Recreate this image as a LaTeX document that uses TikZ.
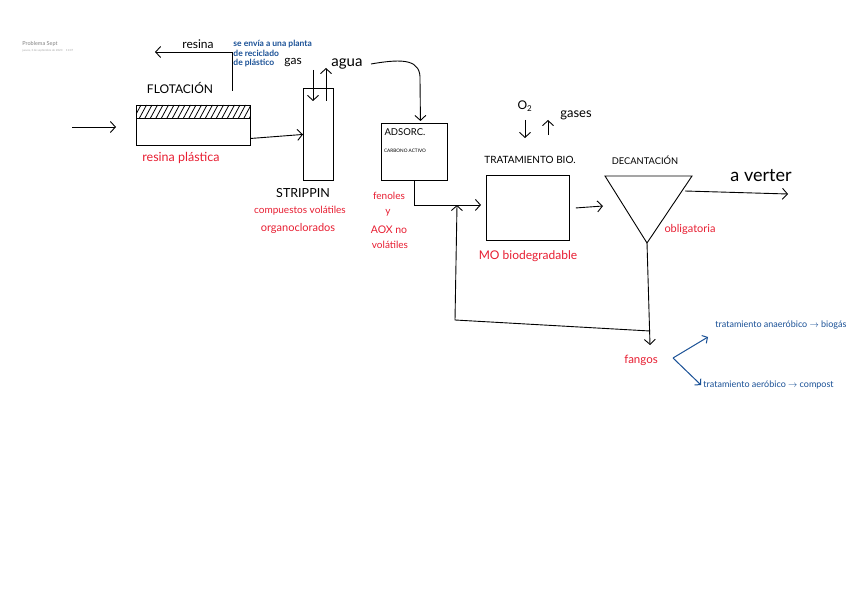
\documentclass[tikz,border=0pt]{standalone}
\usepackage{fontspec}
\setmainfont{Lato}
\usetikzlibrary{arrows.meta}
\definecolor{redh}{RGB}{232,30,50}
\definecolor{blueh}{RGB}{25,80,150}
\begin{document}
\begin{tikzpicture}[x=1pt,y=-1pt, line width=0.9pt,
  box/.style={draw, inner sep=0pt, anchor=north west},
  lbl/.style={inner sep=0pt, font=\fontsize{10}{12}\selectfont},
  rlbl/.style={inner sep=0pt, text=redh, font=\fontsize{10}{12}\selectfont},
  blbl/.style={inner sep=0pt, text=blueh, font=\fontsize{8}{9}\selectfont},
  arr/.style={-{Straight Barb[length=5pt,width=11pt]}},
  barr/.style={-{Straight Barb[length=4pt,width=9pt]}, draw=blueh, line width=1pt},
]
\useasboundingbox (0,0) rectangle (848,599);
\fill[white] (0,0) rectangle (848,599);

% header
\node[anchor=west, inner sep=0pt, text=gray, font=\fontsize{5.5}{6}\selectfont] (title) at (22,44) {Problema Sept};
\node[anchor=west, inner sep=0pt, text=gray!70, font=\fontsize{2.8}{3}\selectfont] (date) at (22,51) {jueves, 3 de septiembre de 2020 \quad 11:07};

% flotacion
\node[box, minimum width=114pt, minimum height=40pt] (flot) at (136,105) {};
\begin{scope}
  \clip (136,105) rectangle (250,118);
  \foreach \i in {0,...,22} \draw[line width=0.8pt] (134+5.5*\i,118) -- (141+5.5*\i,105);
\end{scope}
\draw (136,118) -- (250,118);
\node[lbl, font=\fontsize{12}{12}\selectfont] (flotlbl) at (180,88) {FLOTACIÓN};
\node[rlbl, font=\fontsize{12.5}{13}\selectfont] (resplas) at (181,158) {resina plástica};
\coordinate (in0) at (72,127);
\coordinate (in1) at (116,127);
\draw[arr] (in0) -- (in1);

% resina out
\coordinate (r1) at (232,91);
\coordinate (r2) at (155,52);
\draw[arr] (r1) |- (r2);
\node[lbl, font=\fontsize{12}{12}\selectfont] (resina) at (198,44) {resina};
\node[blbl, anchor=north west, align=left, font=\fontsize{8.5}{9.5}\selectfont\bfseries] (envia) at (233,40) {se envía a una planta\\de reciclado\\de plástico};

% stripping
\node[box, minimum width=30pt, minimum height=92pt] (strip) at (303,88) {};
\draw[arr] ([yshift=-13pt]flot.east) -- (strip.west);
\node[lbl, font=\fontsize{12}{12}\selectfont] (gas) at (293,63) {gas};
\coordinate (g0) at (313,70);
\coordinate (g1) at (313,101);
\draw[arr] (g0) -- (g1);
\coordinate (w0) at (326,101);
\coordinate (w1) at (326,68);
\draw[arr] (w0) -- (w1);
\node[lbl, font=\fontsize{15}{15}\selectfont] (agua) at (347,64) {agua};
\node[lbl, font=\fontsize{12.5}{13}\selectfont] (striplbl) at (303,193) {STRIPPIN};
\node[rlbl, font=\fontsize{10}{12}\selectfont] (comp) at (300,211) {compuestos volátiles};
\node[rlbl, font=\fontsize{11}{12}\selectfont] (org) at (298,228) {organoclorados};

% adsorcion
\node[box, minimum width=66pt, minimum height=57pt] (ads) at (381,123) {};
\node[lbl, font=\fontsize{9.5}{10}\selectfont] (adslbl) at (405,132) {ADSORC.};
\node[inner sep=0pt, font=\fontsize{4.7}{5}\selectfont] (carb) at (405,151) {CARBONO ACTIVO};
\coordinate (a0) at (371,64);
\draw[arr] (a0) .. controls (405,58) and (421,60) .. (420,80) -- ([xshift=6pt,yshift=2pt]ads.north);
\node[rlbl, font=\fontsize{10}{11}\selectfont] (fen1) at (389,196) {fenoles};
\node[rlbl, font=\fontsize{10}{11}\selectfont] (fen2) at (388,213) {y};
\node[rlbl, font=\fontsize{10.5}{11}\selectfont] (fen3) at (389,230) {AOX no};
\node[rlbl, font=\fontsize{10}{11}\selectfont] (fen4) at (390,245) {volátiles};

% tratamiento bio
\node[box, minimum width=83pt, minimum height=65pt] (bio) at (486,175) {};
\node[lbl, font=\fontsize{10}{10}\selectfont] (biolbl) at (530,160) {TRATAMIENTO BIO.};
\node[rlbl, font=\fontsize{12}{12}\selectfont] (mo) at (528,256) {MO biodegradable};
\draw[arr] (ads.south) |- ([xshift=-5pt,yshift=3pt]bio.west);
\node[lbl, font=\fontsize{12}{12}\selectfont] (o2) at (525,106) {O\textsubscript{2}};
\coordinate (o0) at (525,120);
\coordinate (o1) at (525,138);
\draw[arr] (o0) -- (o1);
\coordinate (s0) at (548,135);
\coordinate (s1) at (548,120);
\draw[arr] (s0) -- (s1);
\node[lbl, font=\fontsize{13}{13}\selectfont] (gases) at (576,115) {gases};

% decantacion
\coordinate (dtl) at (605,176);
\coordinate (dtr) at (692,176);
\coordinate (dtip) at (647,243);
\draw (dtl) -- (dtr) -- (dtip) -- cycle;
\node[lbl, font=\fontsize{9.3}{10}\selectfont] (declbl) at (645,160) {DECANTACIÓN};
\node[rlbl, font=\fontsize{11}{11}\selectfont] (obl) at (690,229) {obligatoria};
\coordinate (dl) at (603,206);
\draw[arr] ([xshift=6pt]bio.east) -- (dl);
\coordinate (out0) at (685,191);
\coordinate (out1) at (788,194);
\draw[arr] (out0) -- (out1);
\node[lbl, font=\fontsize{18}{18}\selectfont] (verter) at (761,176) {a verter};

% fangos y recirculacion
\node[rlbl, font=\fontsize{11.5}{12}\selectfont] (fangos) at (641,360) {fangos};
\coordinate (fend) at (650,345);
\draw[arr] (dtip) -- (fend);
\coordinate (split) at (650,331);
\coordinate (jn) at (457,205);
\draw[arr] (split) -- (455,320) -- (jn);

\coordinate (fb) at (673,358);
\coordinate (fb1) at (708,337);
\coordinate (fb2) at (701,385);
\draw[barr] (fb) -- (fb1);
\draw[barr] (fb) -- (fb2);
\node[blbl, anchor=west, font=\fontsize{9}{9}\selectfont] (anae) at (715,325) {tratamiento anaeróbico $\rightarrow$ biogás};
\node[blbl, anchor=west, font=\fontsize{9}{9}\selectfont] (aero) at (703,385) {tratamiento aeróbico $\rightarrow$ compost};
\end{tikzpicture}
\end{document}
